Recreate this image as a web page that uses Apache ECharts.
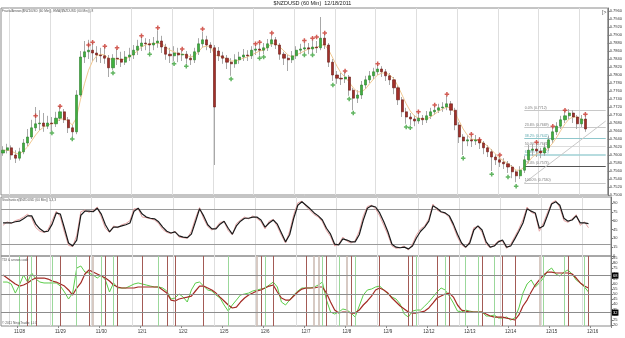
<!DOCTYPE html>
<html><head><meta charset="utf-8">
<script src="https://cdn.jsdelivr.net/npm/echarts@6/dist/echarts.min.js"></script>
<style>html,body{margin:0;padding:0;background:#fff}#c{width:625px;height:338px}</style>
</head><body><div id="c"></div>
<script>
const dayLabels = ['11/28','11/29','11/30','12/1','12/2','12/5','12/6','12/7','12/8','12/9','12/12','12/13','12/14','12/15','12/16'];
const opens = [
0.7605,0.7612,0.7618,0.7600,0.7592,0.7608,0.7630,0.7645,0.7668,0.7678,
0.7680,0.7672,0.7680,0.7678,0.7692,0.7708,0.7688,0.7668,0.7658,0.7750,
0.7845,0.7858,0.7862,0.7855,0.7850,0.7848,0.7842,0.7818,0.7842,0.7840,
0.7832,0.7845,0.7850,0.7862,0.7872,0.7880,0.7878,0.7875,0.7880,0.7885,
0.7870,0.7852,0.7848,0.7855,0.7850,0.7852,0.7842,0.7838,0.7858,0.7878,
0.7888,0.7875,0.7868,0.7860,0.7848,0.7842,0.7832,0.7828,0.7838,0.7845,
0.7850,0.7848,0.7862,0.7865,0.7862,0.7868,0.7878,0.7888,0.7875,0.7852,
0.7842,0.7838,0.7848,0.7862,0.7865,0.7868,0.7865,0.7870,0.7868,0.7892,
0.7875,0.7832,0.7800,0.7792,0.7790,0.7795,0.7762,0.7742,0.7750,0.7775,
0.7788,0.7798,0.7808,0.7815,0.7808,0.7798,0.7788,0.7768,0.7738,0.7708,
0.7695,0.7690,0.7685,0.7692,0.7688,0.7698,0.7708,0.7712,0.7718,0.7720,
0.7728,0.7712,0.7675,0.7645,0.7635,0.7638,0.7635,0.7638,0.7630,0.7618,
0.7608,0.7595,0.7588,0.7582,0.7578,0.7570,0.7558,0.7548,0.7562,0.7588,
0.7612,0.7615,0.7610,0.7605,0.7618,0.7638,0.7658,0.7672,0.7688,0.7698,
0.7705,0.7695,0.7678,0.7690];
const closes = [
0.7612,0.7618,0.7600,0.7592,0.7608,0.7630,0.7645,0.7668,0.7678,0.7680,
0.7672,0.7680,0.7678,0.7692,0.7708,0.7688,0.7668,0.7658,0.7750,0.7845,
0.7858,0.7862,0.7855,0.7850,0.7848,0.7842,0.7818,0.7842,0.7840,0.7832,
0.7845,0.7850,0.7862,0.7872,0.7880,0.7878,0.7875,0.7880,0.7885,0.7870,
0.7852,0.7848,0.7855,0.7850,0.7852,0.7842,0.7838,0.7858,0.7878,0.7888,
0.7875,0.7868,0.7720,0.7848,0.7842,0.7832,0.7828,0.7838,0.7845,0.7850,
0.7848,0.7862,0.7865,0.7862,0.7868,0.7878,0.7888,0.7875,0.7852,0.7842,
0.7838,0.7848,0.7862,0.7865,0.7868,0.7865,0.7870,0.7868,0.7892,0.7875,
0.7832,0.7800,0.7792,0.7790,0.7795,0.7762,0.7742,0.7750,0.7775,0.7788,
0.7798,0.7808,0.7815,0.7808,0.7798,0.7788,0.7768,0.7738,0.7708,0.7695,
0.7690,0.7685,0.7692,0.7688,0.7698,0.7708,0.7712,0.7718,0.7720,0.7728,
0.7712,0.7675,0.7645,0.7635,0.7638,0.7635,0.7638,0.7630,0.7618,0.7608,
0.7595,0.7588,0.7582,0.7578,0.7570,0.7558,0.7548,0.7562,0.7588,0.7612,
0.7615,0.7610,0.7605,0.7618,0.7638,0.7658,0.7672,0.7688,0.7698,0.7705,
0.7695,0.7678,0.7690,0.7665];
const highs = [
0.7622,0.7628,0.7624,0.7612,0.7618,0.7640,0.7665,0.7688,0.7720,0.7712,
0.7705,0.7698,0.7695,0.7708,0.7722,0.7715,0.7695,0.7675,0.7762,0.7860,
0.7885,0.7888,0.7880,0.7872,0.7868,0.7870,0.7850,0.7852,0.7865,0.7858,
0.7860,0.7868,0.7875,0.7888,0.7895,0.7892,0.7890,0.7895,0.7912,0.7898,
0.7878,0.7868,0.7872,0.7868,0.7862,0.7860,0.7852,0.7868,0.7892,0.7908,
0.7898,0.7882,0.7875,0.7870,0.7858,0.7850,0.7842,0.7852,0.7858,0.7865,
0.7862,0.7872,0.7875,0.7878,0.7880,0.7890,0.7900,0.7895,0.7880,0.7858,
0.7850,0.7860,0.7872,0.7878,0.7882,0.7880,0.7888,0.7885,0.7945,0.7902,
0.7880,0.7840,0.7810,0.7805,0.7808,0.7800,0.7768,0.7762,0.7785,0.7798,
0.7810,0.7818,0.7825,0.7822,0.7815,0.7805,0.7795,0.7775,0.7745,0.7718,
0.7705,0.7700,0.7705,0.7700,0.7710,0.7718,0.7722,0.7728,0.7732,0.7748,
0.7735,0.7718,0.7682,0.7652,0.7650,0.7648,0.7650,0.7645,0.7635,0.7625,
0.7615,0.7602,0.7598,0.7592,0.7585,0.7575,0.7562,0.7572,0.7598,0.7625,
0.7628,0.7628,0.7618,0.7630,0.7648,0.7668,0.7682,0.7698,0.7710,0.7715,
0.7712,0.7700,0.7700,0.7698];
const lows = [
0.7598,0.7604,0.7588,0.7580,0.7586,0.7602,0.7622,0.7640,0.7660,0.7662,
0.7658,0.7665,0.7660,0.7670,0.7685,0.7680,0.7655,0.7645,0.7652,0.7745,
0.7830,0.7840,0.7835,0.7832,0.7830,0.7828,0.7795,0.7812,0.7825,0.7820,
0.7825,0.7835,0.7840,0.7850,0.7860,0.7862,0.7858,0.7862,0.7868,0.7855,
0.7838,0.7830,0.7835,0.7832,0.7835,0.7828,0.7825,0.7830,0.7850,0.7868,
0.7862,0.7855,0.7575,0.7835,0.7828,0.7815,0.7798,0.7818,0.7828,0.7835,
0.7835,0.7840,0.7850,0.7848,0.7852,0.7860,0.7870,0.7865,0.7838,0.7825,
0.7810,0.7830,0.7840,0.7852,0.7855,0.7852,0.7855,0.7855,0.7862,0.7865,
0.7820,0.7785,0.7778,0.7775,0.7780,0.7748,0.7712,0.7730,0.7740,0.7765,
0.7780,0.7790,0.7800,0.7795,0.7785,0.7775,0.7752,0.7725,0.7695,0.7678,
0.7675,0.7672,0.7678,0.7675,0.7680,0.7690,0.7700,0.7705,0.7708,0.7712,
0.7700,0.7662,0.7630,0.7600,0.7622,0.7620,0.7625,0.7615,0.7602,0.7595,
0.7560,0.7575,0.7570,0.7565,0.7555,0.7542,0.7532,0.7540,0.7555,0.7580,
0.7598,0.7595,0.7592,0.7598,0.7610,0.7630,0.7650,0.7665,0.7680,0.7690,
0.7680,0.7665,0.7670,0.7658];
const emaLine = [
0.7612,0.7612,0.7610,0.7605,0.7602,0.7610,0.7620,0.7635,0.7650,0.7662,
0.7670,0.7675,0.7678,0.7682,0.7690,0.7690,0.7685,0.7675,0.7692,0.7738,
0.7778,0.7812,0.7835,0.7848,0.7852,0.7850,0.7840,0.7840,0.7840,0.7838,
0.7840,0.7845,0.7852,0.7860,0.7870,0.7875,0.7878,0.7878,0.7880,0.7878,
0.7870,0.7862,0.7858,0.7852,0.7852,0.7850,0.7845,0.7848,0.7858,0.7870,
0.7872,0.7872,0.7850,0.7848,0.7845,0.7840,0.7835,0.7835,0.7838,0.7842,
0.7845,0.7850,0.7855,0.7860,0.7862,0.7870,0.7878,0.7878,0.7870,0.7860,
0.7850,0.7845,0.7850,0.7855,0.7860,0.7865,0.7868,0.7868,0.7875,0.7875,
0.7862,0.7842,0.7822,0.7805,0.7795,0.7782,0.7768,0.7758,0.7758,0.7765,
0.7778,0.7790,0.7800,0.7805,0.7805,0.7800,0.7790,0.7772,0.7750,0.7728,
0.7710,0.7698,0.7692,0.7690,0.7690,0.7695,0.7702,0.7710,0.7715,0.7720,
0.7718,0.7705,0.7685,0.7665,0.7650,0.7640,0.7638,0.7635,0.7630,0.7622,
0.7612,0.7602,0.7592,0.7585,0.7578,0.7570,0.7562,0.7562,0.7570,0.7582,
0.7595,0.7602,0.7608,0.7610,0.7618,0.7630,0.7645,0.7662,0.7678,0.7690,
0.7695,0.7695,0.7690,0.7685];
const fractalHighIdx = [8,14,21,22,25,28,34,38,44,49,62,63,66,74,76,77,79,84,92,102,106,109,115,117,122,131,135,138,143];
const fractalHighVal = [0.7698,0.7722,0.7875,0.7882,0.7872,0.7868,0.7898,0.7918,0.7865,0.7915,0.7878,0.7882,0.7905,0.7886,0.7892,0.7895,0.7905,0.7810,0.7828,0.7708,0.7725,0.7752,0.7652,0.7638,0.7600,0.7632,0.7672,0.7712,0.7702];
const fractalLowIdx = [12,17,27,36,42,45,56,63,64,74,76,81,85,86,99,100,113,120,124,126];
const fractalLowVal = [0.7655,0.7640,0.7805,0.7852,0.7828,0.7822,0.7790,0.7842,0.7845,0.7850,0.7850,0.7775,0.7740,0.7705,0.7670,0.7668,0.7592,0.7552,0.7545,0.7522];
const fibPct = ['0.0%','23.6%','38.2%','50.0%','61.8%','76.4%','100.0%'];
const fibPrice = [0.7712,0.7669,0.7642,0.7621,0.7600,0.7573,0.7530];
const fibStartIdx = 128, fibEndIdx = 148;
const trendFrom = [128, 0.7530], trendTo = [148, 0.7685];
const stochD = [
56,56,56,58,59,63,68,68,54,46,
41,42,54,73,71,47,22,17,27,69,
76,76,75,81,71,53,41,49,49,51,
53,56,76,81,71,66,64,63,58,49,
42,39,41,34,32,31,37,58,80,68,
53,46,46,54,59,47,37,51,59,64,
64,66,66,61,49,56,61,54,39,24,
36,64,86,92,86,80,73,68,61,47,
37,20,19,29,27,24,24,36,61,81,
85,83,73,58,41,20,15,14,15,12,
17,31,42,49,59,85,81,75,73,68,
54,37,22,15,22,44,51,44,24,15,
17,24,27,15,17,29,42,56,80,76,
73,47,51,69,88,92,86,64,59,61,
68,56,56,55];
const stochK = [
52,58,55,60,62,66,71,64,48,42,
40,45,60,76,66,40,18,16,35,75,
78,74,77,83,66,47,40,51,48,53,
55,60,80,80,66,65,63,61,55,45,
40,38,42,32,31,30,42,64,82,63,
50,44,48,57,58,43,36,55,61,66,
63,68,64,58,46,59,62,50,35,22,
42,70,90,93,84,77,70,66,58,43,
33,17,20,32,25,22,26,42,68,84,
86,80,68,52,36,17,13,14,17,10,
20,36,46,51,63,88,78,74,72,65,
50,32,19,14,25,48,50,40,20,14,
19,26,25,13,20,33,46,62,83,74,
71,42,56,74,90,94,82,60,57,63,
70,52,58,48];
const stochLevels = [80, 20];
const tdiSignal = [
68.5,65.6,62.7,59.8,57.8,58.8,60.8,63.7,65.6,65.6,
65.6,64.6,62.7,61.7,59.8,57.8,54.0,49.1,55.9,60.8,
69.5,73.4,71.4,69.5,67.6,65.6,62.7,58.8,56.9,55.9,
55.9,55.9,55.9,56.9,56.9,56.9,56.9,56.9,56.9,54.0,
51.0,44.2,43.3,45.2,46.2,47.1,48.1,53.0,57.8,57.8,
55.9,54.0,51.0,47.1,43.3,39.4,36.5,37.4,42.3,46.2,
49.1,51.0,53.0,54.0,55.9,57.8,58.8,52.0,46.2,44.2,
44.2,48.1,52.0,54.9,55.9,55.9,55.9,56.9,56.9,51.0,
42.3,34.5,31.6,32.6,32.6,31.6,31.6,34.5,39.4,43.3,
48.1,54.0,55.9,54.0,51.0,46.2,42.3,38.4,35.5,32.6,
31.6,31.6,32.6,33.5,36.5,41.3,46.2,48.1,50.1,51.0,
47.1,39.4,34.5,33.5,32.6,32.6,32.6,32.6,30.6,28.7,
27.7,27.7,27.7,26.7,25.8,24.8,29.7,38.4,44.2,52.0,
58.8,63.7,68.5,71.4,71.4,70.5,70.5,70.5,70.5,69.5,
65.6,60.8,57.8,55.9];
const tdiPrice = [
61.7,61.7,59.8,51.0,58.8,68.5,61.7,70.5,64.6,61.7,
60.8,60.8,60.8,60.8,57.8,52.0,45.2,51.0,75.3,77.3,
71.4,70.5,68.5,65.6,68.5,63.7,52.0,60.8,55.9,55.9,
55.9,57.8,59.8,60.8,59.8,58.8,57.8,56.9,56.9,55.9,
53.0,45.2,46.2,50.1,47.1,42.3,54.0,60.8,61.7,57.8,
54.0,53.0,49.1,46.2,39.4,33.5,39.4,44.2,49.1,50.1,
51.0,53.0,54.0,54.9,55.9,58.8,61.7,56.9,42.3,39.4,
44.2,49.1,53.0,55.9,55.9,55.9,56.9,58.8,61.7,44.2,
32.6,30.6,32.6,35.5,34.5,31.6,27.7,38.4,49.1,54.0,
54.9,56.9,57.8,54.0,50.1,47.1,45.2,40.3,30.6,27.7,
33.5,34.5,34.5,38.4,42.3,47.1,52.0,55.9,54.0,48.1,
41.3,33.5,32.6,34.5,33.5,32.6,32.6,32.6,28.7,28.7,
29.7,26.7,26.7,27.7,24.8,26.7,36.5,51.0,59.8,63.7,
56.9,60.8,65.6,72.4,75.3,69.5,67.6,71.4,73.4,69.5,
63.7,60.8,57.0,52.0];
const tdiLevels = [68, 50, 32];
const signalGreenIdx = [4,7,12,18,24,27,38,55,64,78,82,86,101,108,113,116,120,132,137,142];
const signalRedIdx = [6,8,14,21,25,28,34,40,42,49,63,66,74,79,85,92,99,100,106,109,117,122,125,138,143];
const signalGrayIdx = [22,62,76,77,84,131];
const priceTicks = {min: 0.7500, max: 0.79675, step: 0.0020};
const stochTickValues = [0,15,30,45,60,75,90];
const tdiTickValues = [20,25,30,35,40,45,50,55,60,65,70,75,80,85];

const N = 149;
const cats = [];
for (let i = 0; i < N; i++) cats.push(String(i));
const last = closes.length - 1;
const candleData = closes.map((c, i) => [opens[i], c, lows[i], highs[i]]);
const bodyData = closes.map((c, i) => [opens[i], c, Math.min(opens[i], c), Math.max(opens[i], c)]);
const FONT = 'Liberation Sans, Arial, sans-serif';
const dayTick = i => i >= 2 && (i - 2) % 10 === 0 && (i - 2) / 10 < dayLabels.length;
const dayLabelShow = i => i >= 2 && (i - 2) % 10 === 2 && Math.floor((i - 2) / 10) < dayLabels.length;

const grids = [
  {left: 1, right: 14, top: 8, height: 187},
  {left: 1, right: 14, top: 197, height: 59},
  {left: 1, right: 14, top: 256, height: 70}
].map(g => Object.assign(g, {show: true, borderColor: '#8a8a8a', borderWidth: 1}));

function xAx(gi, showLabels) {
  return {
    type: 'category', gridIndex: gi, data: cats, boundaryGap: true,
    axisLine: {show: false}, axisTick: {show: showLabels, interval: (i) => dayLabelShow(i), length: 2, lineStyle: {color: '#888'}},
    axisLabel: {show: showLabels, interval: (i) => dayLabelShow(i), fontSize: 4.5, color: '#333', margin: 3, fontFamily: FONT,
      formatter: (v) => { const d = Math.floor((Number(v) - 2) / 10); return dayLabels[d] || ''; }},
    splitLine: {show: true, interval: (i) => dayTick(i), lineStyle: {color: '#dedede', width: 1}}
  };
}
function yAx(gi, extra) {
  return Object.assign({
    type: 'value', gridIndex: gi, position: 'right', scale: true,
    axisLine: {show: true, lineStyle: {color: '#777'}},
    axisTick: {show: true, length: 2, lineStyle: {color: '#777'}},
    axisLabel: {fontSize: 4, color: '#333', margin: 2, fontFamily: FONT},
    splitLine: {show: false}
  }, extra);
}
const badgeLabel = (bg, fg, digits) => ({show: true, position: 'end', distance: 1, fontSize: 4, fontFamily: FONT,
  color: fg, backgroundColor: bg, padding: [1, 1], formatter: p => Number(p.value).toFixed(digits)});

const fibColors = ['#c8c8c8','#c8c8c8','#8fc7cc','#dcdcdc','#9fd0d4','#555555','#c8c8c8'];
const fibLines = fibPrice.map((p, k) => [
  {coord: [fibStartIdx, p], lineStyle: {color: fibColors[k], width: k === 4 ? 1.5 : 1, type: 'solid'},
   label: {show: true, position: 'insideStartTop', distance: 0.5, fontSize: 3.5, fontFamily: FONT,
     color: k === 2 || k === 4 ? '#5aa7ad' : '#777', formatter: fibPct[k] + ' (' + p.toFixed(4) + ')'}},
  {coord: [fibEndIdx, p]}
]);

const signalLines = [].concat(
  signalGrayIdx.map(i => ({xAxis: i, lineStyle: {color: '#cdbdb5', width: 1.6, type: 'solid'}})),
  signalGreenIdx.map(i => ({xAxis: i, lineStyle: {color: '#9bd89b', width: 1, type: 'solid'}})),
  signalRedIdx.map(i => ({xAxis: i, lineStyle: {color: '#a35a55', width: 1, type: 'solid'}}))
);

const plus = 'path://M2,0H4V2H6V4H4V6H2V4H0V2H2Z';

const option = {
  animation: false,
  backgroundColor: '#ffffff',
  textStyle: {fontFamily: FONT},
  title: [
    {text: '$NZDUSD (60 Min)  12/18/2011', left: 'center', top: 0, padding: 0, textStyle: {fontSize: 5.5, fontWeight: 'normal', color: '#222', fontFamily: FONT}},
    {text: 'FractalArrows($NZDUSD (60 Min)), EMA($NZDUSD (60 Min)), 8', left: 2, top: 9.5, padding: 0, textStyle: {fontSize: 3.2, fontWeight: 'normal', color: '#555', fontFamily: FONT}},
    {text: 'Stochastics($NZDUSD (60 Min)) 5,3,3', left: 2, top: 198.5, padding: 0, textStyle: {fontSize: 3.2, fontWeight: 'normal', color: '#555', fontFamily: FONT}},
    {text: 'TDI & arrows code', left: 2, top: 259, padding: 0, textStyle: {fontSize: 3.2, fontWeight: 'normal', color: '#555', fontFamily: FONT}},
    {text: '\u00a9 2011 NinjaTrader, LLC', left: 2, top: 321.5, padding: 0, textStyle: {fontSize: 3.2, fontWeight: 'normal', color: '#555', fontFamily: FONT}},
    {text: '[>', left: 602, top: 10, padding: 0, textStyle: {fontSize: 5, fontWeight: 'normal', color: '#444', fontFamily: FONT}}
  ],
  grid: grids,
  xAxis: [xAx(0, false), xAx(1, false), xAx(2, true)],
  yAxis: [
    yAx(0, {min: priceTicks.min, max: priceTicks.max, interval: priceTicks.step,
      axisLabel: {fontSize: 4, color: '#333', margin: 2, fontFamily: FONT, showMaxLabel: false, formatter: v => v.toFixed(4)}}),
    yAx(1, {min: 0, max: 100,
      axisLabel: {fontSize: 4, color: '#333', margin: 2, fontFamily: FONT, customValues: stochTickValues},
      axisTick: {show: true, length: 2, lineStyle: {color: '#777'}, customValues: stochTickValues}}),
    yAx(2, {min: 19, max: 87,
      axisLabel: {fontSize: 4, color: '#333', margin: 2, fontFamily: FONT, customValues: tdiTickValues},
      axisTick: {show: true, length: 2, lineStyle: {color: '#777'}, customValues: tdiTickValues}})
  ],
  series: [
    {type: 'candlestick', name: 'wicks', xAxisIndex: 0, yAxisIndex: 0, data: candleData, barWidth: 1, z: 2,
      itemStyle: {color: '#a8a8a8', color0: '#a8a8a8', borderColor: '#a8a8a8', borderColor0: '#a8a8a8', borderWidth: 1}},
    {type: 'line', name: 'EMA', xAxisIndex: 0, yAxisIndex: 0, data: emaLine, symbol: 'none', z: 3,
      lineStyle: {color: '#f1c993', width: 1},
      markLine: {symbol: 'none', silent: true, z: 1, data: fibLines.concat([
        [{coord: trendFrom, lineStyle: {color: '#c9c9c9', width: 1, type: 'solid'}, label: {show: false}}, {coord: trendTo}]
      ])}},
    {type: 'candlestick', name: 'bodies', xAxisIndex: 0, yAxisIndex: 0, data: bodyData, barWidth: 2.6, z: 4,
      itemStyle: {color: '#3fb03f', color0: '#a3302a', borderColor: '#2b7d2b', borderColor0: '#6a1c18', borderWidth: 0.6},
      markLine: {symbol: 'none', silent: true, lineStyle: {opacity: 0},
        data: [
          {yAxis: emaLine[last], label: badgeLabel('#e5a23a', '#000', 4)},
          {yAxis: closes[last], label: badgeLabel('#000', '#fff', 4)}
        ]}},
    {type: 'scatter', name: 'fractalHigh', xAxisIndex: 0, yAxisIndex: 0, z: 5, symbol: plus, symbolSize: 4.5,
      itemStyle: {color: '#c8342b'}, data: fractalHighIdx.map((i, k) => [i, fractalHighVal[k]])},
    {type: 'scatter', name: 'fractalLow', xAxisIndex: 0, yAxisIndex: 0, z: 5, symbol: plus, symbolSize: 4.5,
      itemStyle: {color: '#3aa33a'}, data: fractalLowIdx.map((i, k) => [i, fractalLowVal[k]])},
    {type: 'line', name: '%K', xAxisIndex: 1, yAxisIndex: 1, data: stochK, symbol: 'none', z: 3,
      lineStyle: {color: '#e6a3a3', width: 1},
      markLine: {symbol: 'none', silent: true, z: 1, label: {show: false},
        lineStyle: {color: '#9a9a9a', width: 1, type: 'solid'},
        data: stochLevels.map(v => ({yAxis: v}))}},
    {type: 'line', name: '%D', xAxisIndex: 1, yAxisIndex: 1, data: stochD, symbol: 'none', z: 4,
      lineStyle: {color: '#1a1a1a', width: 1.2},
      markLine: {symbol: 'none', silent: true, lineStyle: {opacity: 0},
        data: [
          {yAxis: stochD[last], label: badgeLabel('#000', '#fff', 2)},
          {yAxis: stochK[last], label: badgeLabel('#c81e1e', '#fff', 2)}
        ]}},
    {type: 'line', name: 'signals', xAxisIndex: 2, yAxisIndex: 2, data: tdiSignal, symbol: 'none', z: 1,
      lineStyle: {opacity: 0},
      markLine: {symbol: 'none', silent: true, label: {show: false}, data: signalLines.concat(
        tdiLevels.map(v => ({yAxis: v, lineStyle: {color: '#8c8c8c', width: 1, type: 'solid'},
          label: v === 50 ? {show: false} : badgeLabel('#000', '#fff', 0)})))}},
    {type: 'line', name: 'TDI price', xAxisIndex: 2, yAxisIndex: 2, data: tdiPrice, symbol: 'none', z: 3,
      lineStyle: {color: '#5ccd4a', width: 1},
      markLine: {symbol: 'none', silent: true, lineStyle: {opacity: 0},
        data: [{yAxis: tdiPrice[last], label: badgeLabel('#2fb52f', '#000', 2)}]}},
    {type: 'line', name: 'TDI signal', xAxisIndex: 2, yAxisIndex: 2, data: tdiSignal, symbol: 'none', z: 4,
      lineStyle: {color: '#a32a24', width: 1.2},
      markLine: {symbol: 'none', silent: true, lineStyle: {opacity: 0},
        data: [{yAxis: tdiSignal[last], label: badgeLabel('#c81e1e', '#fff', 2)}]}}
  ]
};
const chart = echarts.init(document.getElementById('c'), null, {renderer: 'canvas'});
chart.setOption(option);
</script>
</body></html>
